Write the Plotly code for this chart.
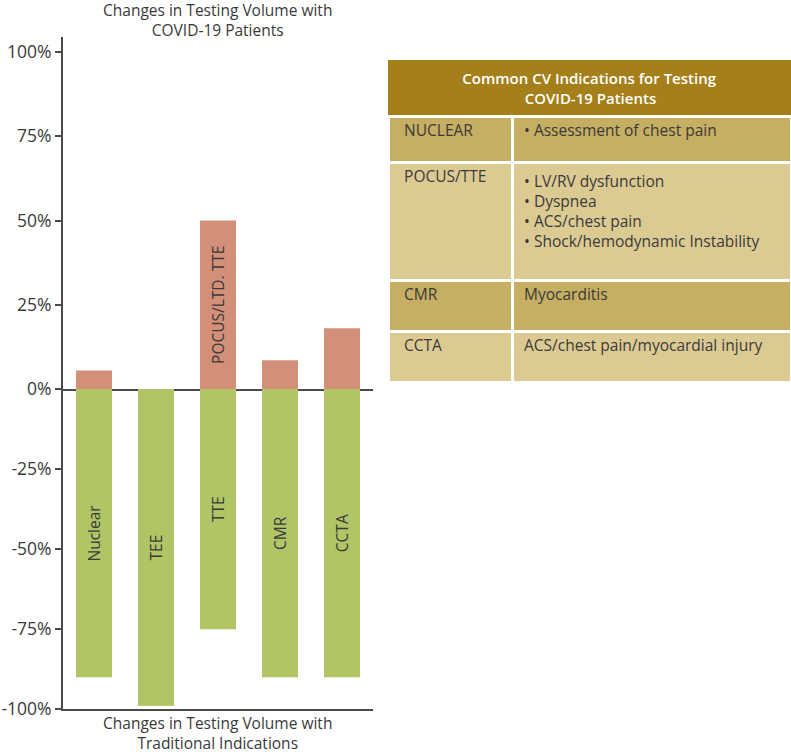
import plotly.graph_objects as go

# ---------------- data ----------------
categories = ["Nuclear", "TEE", "TTE", "CMR", "CCTA"]
covid_change = [5.5, None, 50, 8.5, 18]          # % change, COVID-19 patients
covid_labels = ["", "", "POCUS/LTD. TTE", "", ""]
traditional_change = [-90, -99, -75, -90, -90]   # % change, traditional indications
traditional_labels = ["Nuclear", "TEE", "TTE", "CMR", "CCTA"]

pos_tickvals = [0, 25, 50, 75, 100]
pos_ticktext = ["0%", "25%", "50%", "75%", "100%"]
neg_tickvals = [-100, -75, -50, -25]
neg_ticktext = ["-100%", "-75%", "-50%", "-25%"]

table_title_lines = ["Common CV Indications for Testing", "COVID-19 Patients"]
table_modalities = ["NUCLEAR", "POCUS/TTE", "CMR", "CCTA"]
table_indications = [
    ["• Assessment of chest pain"],
    ["• LV/RV dysfunction", "• Dyspnea", "• ACS/chest pain",
     "• Shock/hemodynamic Instability", ""],
    ["Myocarditis"],
    ["ACS/chest pain/myocardial injury"],
]

# ---------------- style ----------------
FONT = "Open Sans"
TXT = "#3a3a3a"
AX = "#4a4a4a"
POS_COLOR = "#d48f79"
NEG_COLOR = "#b1c566"
HEAD_COLOR = "#a5801a"
ROW_COLORS = ["#c6ae62", "#dcca93", "#c6ae62", "#dcca93"]
NB = "\u00a0"

W, H = 791, 754

def fx(px):
    return px / W

def fy(py):
    return 1 - py / H

# multi-line table texts are left-aligned line by line: pad the short line
title_text = table_title_lines[0] + "<br>" + NB * 16 + table_title_lines[1]
mod_text = [NB * 2 + m for m in table_modalities]
ind_text = ["<br>".join(NB + ln for ln in lines) for lines in table_indications]

fig = go.Figure()

fig.add_trace(go.Bar(
    x=categories, y=covid_change, xaxis="x", yaxis="y",
    marker=dict(color=POS_COLOR, line=dict(width=0)),
    width=0.58, text=covid_labels, textposition="inside",
    insidetextanchor="middle", textangle=-90,
    textfont=dict(family=FONT, size=15.5, color=TXT),
    constraintext="none", hoverinfo="skip", showlegend=False,
))
fig.add_trace(go.Bar(
    x=categories, y=traditional_change, xaxis="x2", yaxis="y2",
    marker=dict(color=NEG_COLOR, line=dict(width=0)),
    width=0.58, text=traditional_labels, textposition="inside",
    insidetextanchor="middle", textangle=-90,
    textfont=dict(family=FONT, size=15.5, color=TXT),
    constraintext="none", hoverinfo="skip", showlegend=False,
))

# Table title row (merged across columns)
fig.add_trace(go.Table(
    domain=dict(x=[fx(388), 1], y=[fy(140), fy(60)]),
    columnwidth=[1],
    header=dict(
        values=[title_text],
        fill_color=HEAD_COLOR,
        line=dict(color=HEAD_COLOR, width=0),
        align="center",
        height=52,
        font=dict(family=FONT, size=15, color="white", weight=600),
    ),
    cells=dict(values=[[""]], fill_color="rgba(0,0,0,0)",
               line=dict(color="rgba(0,0,0,0)", width=0), height=1),
))
# Table body: first row as header, remaining rows as cells
fig.add_trace(go.Table(
    domain=dict(x=[fx(388), 1], y=[fy(440), fy(116)]),
    columnwidth=[124, 279],
    header=dict(
        values=[mod_text[0], ind_text[0]],
        fill_color=[ROW_COLORS[0], ROW_COLORS[0]],
        line=dict(color="white", width=3),
        align="left",
        height=46,
        font=dict(family=FONT, size=15.5, color=TXT),
    ),
    cells=dict(
        values=[mod_text[1:], ind_text[1:]],
        fill_color=[ROW_COLORS[1:], ROW_COLORS[1:]],
        line=dict(color="white", width=3),
        align="left",
        height=51,
        font=dict(family=FONT, size=15.5, color=TXT),
    ),
))

x_dom = [fx(63), fx(373)]
fig.update_layout(
    width=W, height=H, autosize=False,
    margin=dict(l=0, r=0, t=0, b=0),
    paper_bgcolor="white", plot_bgcolor="rgba(0,0,0,0)",
    font=dict(family=FONT, color=TXT),
    bargap=0.42,
    xaxis=dict(domain=x_dom, anchor="y", showticklabels=False, ticks="",
               showline=True, linecolor=AX, linewidth=2, showgrid=False,
               zeroline=False, fixedrange=True),
    xaxis2=dict(domain=x_dom, anchor="y2", showticklabels=False, ticks="",
                showline=True, linecolor=AX, linewidth=2, showgrid=False,
                zeroline=False, matches="x", fixedrange=True),
    yaxis=dict(domain=[fy(389), fy(37)], range=[0, 104.5], anchor="x",
               tickvals=pos_tickvals, ticktext=pos_ticktext,
               ticks="outside", ticklen=6, tickwidth=1.5, tickcolor=AX,
               showline=True, linecolor=AX, linewidth=2, showgrid=False,
               zeroline=False, automargin=False,
               tickfont=dict(family=FONT, size=17.5, color=TXT)),
    yaxis2=dict(domain=[fy(709.3), fy(389)], range=[-100, 0], anchor="x2",
                tickvals=neg_tickvals, ticktext=neg_ticktext,
                ticks="outside", ticklen=6, tickwidth=1.5, tickcolor=AX,
                showline=True, linecolor=AX, linewidth=2, showgrid=False,
                zeroline=False, automargin=False,
                tickfont=dict(family=FONT, size=17.5, color=TXT)),
    annotations=[
        dict(text="Changes in Testing Volume with<br>COVID-19 Patients",
             x=fx(218), y=fy(20), xref="paper", yref="paper",
             xanchor="center", yanchor="middle", showarrow=False,
             font=dict(family=FONT, size=15.5, color=TXT)),
        dict(text="Changes in Testing Volume with<br>Traditional Indications",
             x=fx(218), y=fy(733), xref="paper", yref="paper",
             xanchor="center", yanchor="middle", showarrow=False,
             font=dict(family=FONT, size=15.5, color=TXT)),
    ],
)

fig.write_html(
    "out.html",
    config={"displayModeBar": False},
    post_script="document.body.style.margin='0';document.body.style.overflow='hidden';",
)
